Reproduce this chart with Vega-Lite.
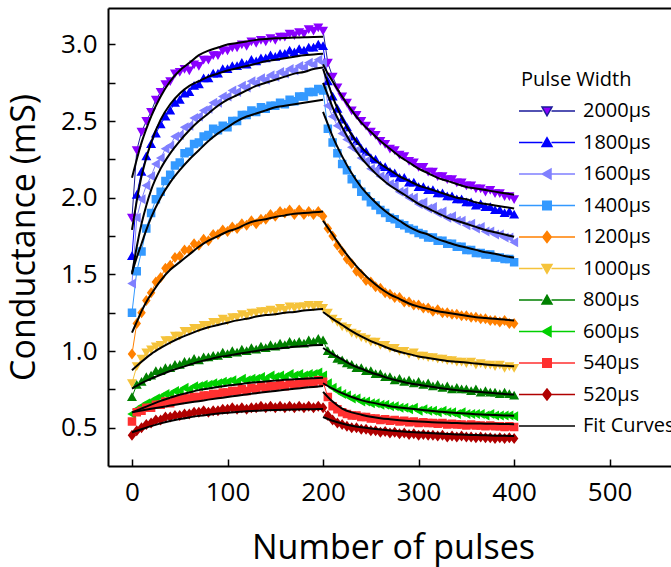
{
  "$schema": "https://vega.github.io/schema/vega-lite/v6.json",
  "width": 563,
  "height": 458,
  "autosize": {"type": "none"},
  "padding": {"left": 108, "top": 8, "right": 0, "bottom": 101},
  "background": "white",
  "config": {
    "font": "Open Sans",
    "view": {"stroke": null},
    "axis": {"grid": false, "domainColor": "black", "domainWidth": 2, "tickColor": "black", "tickWidth": 1.5, "labelColor": "black", "titleColor": "black", "labelFont": "Open Sans", "titleFont": "Open Sans", "labelFontSize": 26, "titleFontSize": 34, "titleFontWeight": "normal"}
  },
  "datasets": {
    "pts": [
{"w":"2000μs","n":0,"g":1.87},{"w":"2000μs","n":5,"g":2.31},{"w":"2000μs","n":10,"g":2.43},{"w":"2000μs","n":15,"g":2.50},{"w":"2000μs","n":20,"g":2.56},{"w":"2000μs","n":25,"g":2.64},{"w":"2000μs","n":30,"g":2.69},{"w":"2000μs","n":35,"g":2.74},{"w":"2000μs","n":40,"g":2.76},{"w":"2000μs","n":45,"g":2.81},{"w":"2000μs","n":50,"g":2.82},{"w":"2000μs","n":55,"g":2.84},{"w":"2000μs","n":60,"g":2.83},{"w":"2000μs","n":65,"g":2.87},{"w":"2000μs","n":70,"g":2.86},{"w":"2000μs","n":75,"g":2.90},{"w":"2000μs","n":80,"g":2.90},{"w":"2000μs","n":85,"g":2.93},{"w":"2000μs","n":90,"g":2.93},{"w":"2000μs","n":95,"g":2.96},{"w":"2000μs","n":100,"g":2.96},{"w":"2000μs","n":105,"g":2.98},{"w":"2000μs","n":110,"g":2.98},{"w":"2000μs","n":115,"g":3.00},{"w":"2000μs","n":120,"g":2.99},{"w":"2000μs","n":125,"g":3.02},{"w":"2000μs","n":130,"g":3.01},{"w":"2000μs","n":135,"g":3.03},{"w":"2000μs","n":140,"g":3.02},{"w":"2000μs","n":145,"g":3.04},{"w":"2000μs","n":150,"g":3.03},{"w":"2000μs","n":155,"g":3.05},{"w":"2000μs","n":160,"g":3.05},{"w":"2000μs","n":165,"g":3.07},{"w":"2000μs","n":170,"g":3.06},{"w":"2000μs","n":175,"g":3.08},{"w":"2000μs","n":180,"g":3.07},{"w":"2000μs","n":185,"g":3.10},{"w":"2000μs","n":190,"g":3.09},{"w":"2000μs","n":195,"g":3.11},{"w":"2000μs","n":200,"g":3.09},
{"w":"2000μs","n":205,"g":2.88},{"w":"2000μs","n":210,"g":2.79},{"w":"2000μs","n":215,"g":2.72},{"w":"2000μs","n":220,"g":2.66},{"w":"2000μs","n":225,"g":2.62},{"w":"2000μs","n":230,"g":2.57},{"w":"2000μs","n":235,"g":2.54},{"w":"2000μs","n":240,"g":2.50},{"w":"2000μs","n":245,"g":2.47},{"w":"2000μs","n":250,"g":2.43},{"w":"2000μs","n":255,"g":2.41},{"w":"2000μs","n":260,"g":2.37},{"w":"2000μs","n":265,"g":2.35},{"w":"2000μs","n":270,"g":2.32},{"w":"2000μs","n":275,"g":2.31},{"w":"2000μs","n":280,"g":2.28},{"w":"2000μs","n":285,"g":2.27},{"w":"2000μs","n":290,"g":2.24},{"w":"2000μs","n":295,"g":2.23},{"w":"2000μs","n":300,"g":2.20},{"w":"2000μs","n":305,"g":2.20},{"w":"2000μs","n":310,"g":2.17},{"w":"2000μs","n":315,"g":2.17},{"w":"2000μs","n":320,"g":2.14},{"w":"2000μs","n":325,"g":2.14},{"w":"2000μs","n":330,"g":2.12},{"w":"2000μs","n":335,"g":2.12},{"w":"2000μs","n":340,"g":2.10},{"w":"2000μs","n":345,"g":2.10},{"w":"2000μs","n":350,"g":2.08},{"w":"2000μs","n":355,"g":2.08},{"w":"2000μs","n":360,"g":2.06},{"w":"2000μs","n":365,"g":2.06},{"w":"2000μs","n":370,"g":2.04},{"w":"2000μs","n":375,"g":2.05},{"w":"2000μs","n":380,"g":2.03},{"w":"2000μs","n":385,"g":2.03},{"w":"2000μs","n":390,"g":2.01},{"w":"2000μs","n":395,"g":2.01},{"w":"2000μs","n":400,"g":1.99},
{"w":"1800μs","n":0,"g":1.62},{"w":"1800μs","n":5,"g":2.02},{"w":"1800μs","n":10,"g":2.17},{"w":"1800μs","n":15,"g":2.27},{"w":"1800μs","n":20,"g":2.35},{"w":"1800μs","n":25,"g":2.42},{"w":"1800μs","n":30,"g":2.48},{"w":"1800μs","n":35,"g":2.53},{"w":"1800μs","n":40,"g":2.57},{"w":"1800μs","n":45,"g":2.62},{"w":"1800μs","n":50,"g":2.64},{"w":"1800μs","n":55,"g":2.68},{"w":"1800μs","n":60,"g":2.69},{"w":"1800μs","n":65,"g":2.73},{"w":"1800μs","n":70,"g":2.74},{"w":"1800μs","n":75,"g":2.78},{"w":"1800μs","n":80,"g":2.78},{"w":"1800μs","n":85,"g":2.81},{"w":"1800μs","n":90,"g":2.81},{"w":"1800μs","n":95,"g":2.84},{"w":"1800μs","n":100,"g":2.84},{"w":"1800μs","n":105,"g":2.86},{"w":"1800μs","n":110,"g":2.86},{"w":"1800μs","n":115,"g":2.88},{"w":"1800μs","n":120,"g":2.87},{"w":"1800μs","n":125,"g":2.90},{"w":"1800μs","n":130,"g":2.89},{"w":"1800μs","n":135,"g":2.91},{"w":"1800μs","n":140,"g":2.91},{"w":"1800μs","n":145,"g":2.93},{"w":"1800μs","n":150,"g":2.92},{"w":"1800μs","n":155,"g":2.94},{"w":"1800μs","n":160,"g":2.94},{"w":"1800μs","n":165,"g":2.96},{"w":"1800μs","n":170,"g":2.95},{"w":"1800μs","n":175,"g":2.97},{"w":"1800μs","n":180,"g":2.96},{"w":"1800μs","n":185,"g":2.98},{"w":"1800μs","n":190,"g":2.98},{"w":"1800μs","n":195,"g":3.00},{"w":"1800μs","n":200,"g":2.99},
{"w":"1800μs","n":205,"g":2.76},{"w":"1800μs","n":210,"g":2.66},{"w":"1800μs","n":215,"g":2.58},{"w":"1800μs","n":220,"g":2.51},{"w":"1800μs","n":225,"g":2.46},{"w":"1800μs","n":230,"g":2.40},{"w":"1800μs","n":235,"g":2.37},{"w":"1800μs","n":240,"g":2.32},{"w":"1800μs","n":245,"g":2.30},{"w":"1800μs","n":250,"g":2.26},{"w":"1800μs","n":255,"g":2.25},{"w":"1800μs","n":260,"g":2.21},{"w":"1800μs","n":265,"g":2.20},{"w":"1800μs","n":270,"g":2.17},{"w":"1800μs","n":275,"g":2.16},{"w":"1800μs","n":280,"g":2.13},{"w":"1800μs","n":285,"g":2.13},{"w":"1800μs","n":290,"g":2.10},{"w":"1800μs","n":295,"g":2.10},{"w":"1800μs","n":300,"g":2.07},{"w":"1800μs","n":305,"g":2.07},{"w":"1800μs","n":310,"g":2.05},{"w":"1800μs","n":315,"g":2.05},{"w":"1800μs","n":320,"g":2.03},{"w":"1800μs","n":325,"g":2.03},{"w":"1800μs","n":330,"g":2.01},{"w":"1800μs","n":335,"g":2.01},{"w":"1800μs","n":340,"g":1.99},{"w":"1800μs","n":345,"g":1.99},{"w":"1800μs","n":350,"g":1.97},{"w":"1800μs","n":355,"g":1.97},{"w":"1800μs","n":360,"g":1.95},{"w":"1800μs","n":365,"g":1.96},{"w":"1800μs","n":370,"g":1.94},{"w":"1800μs","n":375,"g":1.94},{"w":"1800μs","n":380,"g":1.92},{"w":"1800μs","n":385,"g":1.92},{"w":"1800μs","n":390,"g":1.90},{"w":"1800μs","n":395,"g":1.91},{"w":"1800μs","n":400,"g":1.89},
{"w":"1600μs","n":0,"g":1.44},{"w":"1600μs","n":5,"g":1.87},{"w":"1600μs","n":10,"g":1.99},{"w":"1600μs","n":15,"g":2.08},{"w":"1600μs","n":20,"g":2.14},{"w":"1600μs","n":25,"g":2.22},{"w":"1600μs","n":30,"g":2.26},{"w":"1600μs","n":35,"g":2.32},{"w":"1600μs","n":40,"g":2.34},{"w":"1600μs","n":45,"g":2.40},{"w":"1600μs","n":50,"g":2.41},{"w":"1600μs","n":55,"g":2.46},{"w":"1600μs","n":60,"g":2.47},{"w":"1600μs","n":65,"g":2.52},{"w":"1600μs","n":70,"g":2.53},{"w":"1600μs","n":75,"g":2.57},{"w":"1600μs","n":80,"g":2.58},{"w":"1600μs","n":85,"g":2.62},{"w":"1600μs","n":90,"g":2.62},{"w":"1600μs","n":95,"g":2.66},{"w":"1600μs","n":100,"g":2.66},{"w":"1600μs","n":105,"g":2.70},{"w":"1600μs","n":110,"g":2.69},{"w":"1600μs","n":115,"g":2.73},{"w":"1600μs","n":120,"g":2.72},{"w":"1600μs","n":125,"g":2.76},{"w":"1600μs","n":130,"g":2.75},{"w":"1600μs","n":135,"g":2.78},{"w":"1600μs","n":140,"g":2.77},{"w":"1600μs","n":145,"g":2.80},{"w":"1600μs","n":150,"g":2.79},{"w":"1600μs","n":155,"g":2.82},{"w":"1600μs","n":160,"g":2.81},{"w":"1600μs","n":165,"g":2.84},{"w":"1600μs","n":170,"g":2.83},{"w":"1600μs","n":175,"g":2.86},{"w":"1600μs","n":180,"g":2.85},{"w":"1600μs","n":185,"g":2.88},{"w":"1600μs","n":190,"g":2.87},{"w":"1600μs","n":195,"g":2.90},{"w":"1600μs","n":200,"g":2.88},
{"w":"1600μs","n":205,"g":2.60},{"w":"1600μs","n":210,"g":2.53},{"w":"1600μs","n":215,"g":2.47},{"w":"1600μs","n":220,"g":2.42},{"w":"1600μs","n":225,"g":2.38},{"w":"1600μs","n":230,"g":2.33},{"w":"1600μs","n":235,"g":2.31},{"w":"1600μs","n":240,"g":2.26},{"w":"1600μs","n":245,"g":2.24},{"w":"1600μs","n":250,"g":2.19},{"w":"1600μs","n":255,"g":2.18},{"w":"1600μs","n":260,"g":2.14},{"w":"1600μs","n":265,"g":2.13},{"w":"1600μs","n":270,"g":2.09},{"w":"1600μs","n":275,"g":2.08},{"w":"1600μs","n":280,"g":2.04},{"w":"1600μs","n":285,"g":2.04},{"w":"1600μs","n":290,"g":2.00},{"w":"1600μs","n":295,"g":2.00},{"w":"1600μs","n":300,"g":1.96},{"w":"1600μs","n":305,"g":1.97},{"w":"1600μs","n":310,"g":1.93},{"w":"1600μs","n":315,"g":1.94},{"w":"1600μs","n":320,"g":1.90},{"w":"1600μs","n":325,"g":1.91},{"w":"1600μs","n":330,"g":1.87},{"w":"1600μs","n":335,"g":1.88},{"w":"1600μs","n":340,"g":1.85},{"w":"1600μs","n":345,"g":1.85},{"w":"1600μs","n":350,"g":1.82},{"w":"1600μs","n":355,"g":1.83},{"w":"1600μs","n":360,"g":1.80},{"w":"1600μs","n":365,"g":1.81},{"w":"1600μs","n":370,"g":1.78},{"w":"1600μs","n":375,"g":1.78},{"w":"1600μs","n":380,"g":1.76},{"w":"1600μs","n":385,"g":1.76},{"w":"1600μs","n":390,"g":1.74},{"w":"1600μs","n":395,"g":1.74},{"w":"1600μs","n":400,"g":1.71},
{"w":"1400μs","n":0,"g":1.25},{"w":"1400μs","n":5,"g":1.52},{"w":"1400μs","n":10,"g":1.65},{"w":"1400μs","n":15,"g":1.80},{"w":"1400μs","n":20,"g":1.90},{"w":"1400μs","n":25,"g":1.99},{"w":"1400μs","n":30,"g":2.04},{"w":"1400μs","n":35,"g":2.11},{"w":"1400μs","n":40,"g":2.15},{"w":"1400μs","n":45,"g":2.21},{"w":"1400μs","n":50,"g":2.23},{"w":"1400μs","n":55,"g":2.29},{"w":"1400μs","n":60,"g":2.30},{"w":"1400μs","n":65,"g":2.35},{"w":"1400μs","n":70,"g":2.36},{"w":"1400μs","n":75,"g":2.40},{"w":"1400μs","n":80,"g":2.41},{"w":"1400μs","n":85,"g":2.45},{"w":"1400μs","n":90,"g":2.44},{"w":"1400μs","n":95,"g":2.47},{"w":"1400μs","n":100,"g":2.46},{"w":"1400μs","n":105,"g":2.50},{"w":"1400μs","n":110,"g":2.50},{"w":"1400μs","n":115,"g":2.54},{"w":"1400μs","n":120,"g":2.54},{"w":"1400μs","n":125,"g":2.57},{"w":"1400μs","n":130,"g":2.56},{"w":"1400μs","n":135,"g":2.59},{"w":"1400μs","n":140,"g":2.58},{"w":"1400μs","n":145,"g":2.60},{"w":"1400μs","n":150,"g":2.60},{"w":"1400μs","n":155,"g":2.62},{"w":"1400μs","n":160,"g":2.61},{"w":"1400μs","n":165,"g":2.64},{"w":"1400μs","n":170,"g":2.63},{"w":"1400μs","n":175,"g":2.66},{"w":"1400μs","n":180,"g":2.66},{"w":"1400μs","n":185,"g":2.69},{"w":"1400μs","n":190,"g":2.69},{"w":"1400μs","n":195,"g":2.71},{"w":"1400μs","n":200,"g":2.70},
{"w":"1400μs","n":205,"g":2.45},{"w":"1400μs","n":210,"g":2.36},{"w":"1400μs","n":215,"g":2.29},{"w":"1400μs","n":220,"g":2.22},{"w":"1400μs","n":225,"g":2.18},{"w":"1400μs","n":230,"g":2.12},{"w":"1400μs","n":235,"g":2.09},{"w":"1400μs","n":240,"g":2.04},{"w":"1400μs","n":245,"g":2.01},{"w":"1400μs","n":250,"g":1.97},{"w":"1400μs","n":255,"g":1.95},{"w":"1400μs","n":260,"g":1.92},{"w":"1400μs","n":265,"g":1.90},{"w":"1400μs","n":270,"g":1.87},{"w":"1400μs","n":275,"g":1.86},{"w":"1400μs","n":280,"g":1.83},{"w":"1400μs","n":285,"g":1.82},{"w":"1400μs","n":290,"g":1.80},{"w":"1400μs","n":295,"g":1.79},{"w":"1400μs","n":300,"g":1.77},{"w":"1400μs","n":305,"g":1.76},{"w":"1400μs","n":310,"g":1.74},{"w":"1400μs","n":315,"g":1.74},{"w":"1400μs","n":320,"g":1.72},{"w":"1400μs","n":325,"g":1.72},{"w":"1400μs","n":330,"g":1.70},{"w":"1400μs","n":335,"g":1.70},{"w":"1400μs","n":340,"g":1.68},{"w":"1400μs","n":345,"g":1.68},{"w":"1400μs","n":350,"g":1.66},{"w":"1400μs","n":355,"g":1.66},{"w":"1400μs","n":360,"g":1.64},{"w":"1400μs","n":365,"g":1.64},{"w":"1400μs","n":370,"g":1.63},{"w":"1400μs","n":375,"g":1.63},{"w":"1400μs","n":380,"g":1.61},{"w":"1400μs","n":385,"g":1.61},{"w":"1400μs","n":390,"g":1.60},{"w":"1400μs","n":395,"g":1.60},{"w":"1400μs","n":400,"g":1.58},
{"w":"1200μs","n":0,"g":0.98},{"w":"1200μs","n":5,"g":1.18},{"w":"1200μs","n":10,"g":1.25},{"w":"1200μs","n":15,"g":1.33},{"w":"1200μs","n":20,"g":1.38},{"w":"1200μs","n":25,"g":1.45},{"w":"1200μs","n":30,"g":1.48},{"w":"1200μs","n":35,"g":1.54},{"w":"1200μs","n":40,"g":1.56},{"w":"1200μs","n":45,"g":1.61},{"w":"1200μs","n":50,"g":1.62},{"w":"1200μs","n":55,"g":1.66},{"w":"1200μs","n":60,"g":1.66},{"w":"1200μs","n":65,"g":1.70},{"w":"1200μs","n":70,"g":1.69},{"w":"1200μs","n":75,"g":1.73},{"w":"1200μs","n":80,"g":1.72},{"w":"1200μs","n":85,"g":1.76},{"w":"1200μs","n":90,"g":1.76},{"w":"1200μs","n":95,"g":1.79},{"w":"1200μs","n":100,"g":1.78},{"w":"1200μs","n":105,"g":1.81},{"w":"1200μs","n":110,"g":1.80},{"w":"1200μs","n":115,"g":1.83},{"w":"1200μs","n":120,"g":1.82},{"w":"1200μs","n":125,"g":1.85},{"w":"1200μs","n":130,"g":1.83},{"w":"1200μs","n":135,"g":1.86},{"w":"1200μs","n":140,"g":1.86},{"w":"1200μs","n":145,"g":1.89},{"w":"1200μs","n":150,"g":1.88},{"w":"1200μs","n":155,"g":1.91},{"w":"1200μs","n":160,"g":1.90},{"w":"1200μs","n":165,"g":1.92},{"w":"1200μs","n":170,"g":1.89},{"w":"1200μs","n":175,"g":1.92},{"w":"1200μs","n":180,"g":1.89},{"w":"1200μs","n":185,"g":1.91},{"w":"1200μs","n":190,"g":1.89},{"w":"1200μs","n":195,"g":1.91},{"w":"1200μs","n":200,"g":1.88},
{"w":"1200μs","n":205,"g":1.80},{"w":"1200μs","n":210,"g":1.75},{"w":"1200μs","n":215,"g":1.69},{"w":"1200μs","n":220,"g":1.65},{"w":"1200μs","n":225,"g":1.60},{"w":"1200μs","n":230,"g":1.57},{"w":"1200μs","n":235,"g":1.52},{"w":"1200μs","n":240,"g":1.50},{"w":"1200μs","n":245,"g":1.46},{"w":"1200μs","n":250,"g":1.45},{"w":"1200μs","n":255,"g":1.42},{"w":"1200μs","n":260,"g":1.41},{"w":"1200μs","n":265,"g":1.38},{"w":"1200μs","n":270,"g":1.37},{"w":"1200μs","n":275,"g":1.35},{"w":"1200μs","n":280,"g":1.35},{"w":"1200μs","n":285,"g":1.32},{"w":"1200μs","n":290,"g":1.32},{"w":"1200μs","n":295,"g":1.30},{"w":"1200μs","n":300,"g":1.30},{"w":"1200μs","n":305,"g":1.28},{"w":"1200μs","n":310,"g":1.28},{"w":"1200μs","n":315,"g":1.26},{"w":"1200μs","n":320,"g":1.27},{"w":"1200μs","n":325,"g":1.25},{"w":"1200μs","n":330,"g":1.25},{"w":"1200μs","n":335,"g":1.24},{"w":"1200μs","n":340,"g":1.24},{"w":"1200μs","n":345,"g":1.23},{"w":"1200μs","n":350,"g":1.23},{"w":"1200μs","n":355,"g":1.22},{"w":"1200μs","n":360,"g":1.22},{"w":"1200μs","n":365,"g":1.21},{"w":"1200μs","n":370,"g":1.21},{"w":"1200μs","n":375,"g":1.20},{"w":"1200μs","n":380,"g":1.20},{"w":"1200μs","n":385,"g":1.19},{"w":"1200μs","n":390,"g":1.20},{"w":"1200μs","n":395,"g":1.18},{"w":"1200μs","n":400,"g":1.18},
{"w":"1000μs","n":0,"g":0.79},{"w":"1000μs","n":5,"g":0.90},{"w":"1000μs","n":10,"g":0.95},{"w":"1000μs","n":15,"g":0.99},{"w":"1000μs","n":20,"g":1.01},{"w":"1000μs","n":25,"g":1.03},{"w":"1000μs","n":30,"g":1.04},{"w":"1000μs","n":35,"g":1.07},{"w":"1000μs","n":40,"g":1.07},{"w":"1000μs","n":45,"g":1.10},{"w":"1000μs","n":50,"g":1.10},{"w":"1000μs","n":55,"g":1.13},{"w":"1000μs","n":60,"g":1.13},{"w":"1000μs","n":65,"g":1.15},{"w":"1000μs","n":70,"g":1.15},{"w":"1000μs","n":75,"g":1.17},{"w":"1000μs","n":80,"g":1.17},{"w":"1000μs","n":85,"g":1.19},{"w":"1000μs","n":90,"g":1.19},{"w":"1000μs","n":95,"g":1.21},{"w":"1000μs","n":100,"g":1.20},{"w":"1000μs","n":105,"g":1.22},{"w":"1000μs","n":110,"g":1.22},{"w":"1000μs","n":115,"g":1.24},{"w":"1000μs","n":120,"g":1.23},{"w":"1000μs","n":125,"g":1.25},{"w":"1000μs","n":130,"g":1.25},{"w":"1000μs","n":135,"g":1.26},{"w":"1000μs","n":140,"g":1.26},{"w":"1000μs","n":145,"g":1.27},{"w":"1000μs","n":150,"g":1.26},{"w":"1000μs","n":155,"g":1.28},{"w":"1000μs","n":160,"g":1.27},{"w":"1000μs","n":165,"g":1.29},{"w":"1000μs","n":170,"g":1.28},{"w":"1000μs","n":175,"g":1.29},{"w":"1000μs","n":180,"g":1.29},{"w":"1000μs","n":185,"g":1.30},{"w":"1000μs","n":190,"g":1.29},{"w":"1000μs","n":195,"g":1.30},{"w":"1000μs","n":200,"g":1.28},
{"w":"1000μs","n":205,"g":1.25},{"w":"1000μs","n":210,"g":1.21},{"w":"1000μs","n":215,"g":1.19},{"w":"1000μs","n":220,"g":1.16},{"w":"1000μs","n":225,"g":1.15},{"w":"1000μs","n":230,"g":1.12},{"w":"1000μs","n":235,"g":1.11},{"w":"1000μs","n":240,"g":1.09},{"w":"1000μs","n":245,"g":1.08},{"w":"1000μs","n":250,"g":1.06},{"w":"1000μs","n":255,"g":1.06},{"w":"1000μs","n":260,"g":1.04},{"w":"1000μs","n":265,"g":1.04},{"w":"1000μs","n":270,"g":1.02},{"w":"1000μs","n":275,"g":1.02},{"w":"1000μs","n":280,"g":1.00},{"w":"1000μs","n":285,"g":1.00},{"w":"1000μs","n":290,"g":0.98},{"w":"1000μs","n":295,"g":0.99},{"w":"1000μs","n":300,"g":0.97},{"w":"1000μs","n":305,"g":0.97},{"w":"1000μs","n":310,"g":0.96},{"w":"1000μs","n":315,"g":0.96},{"w":"1000μs","n":320,"g":0.95},{"w":"1000μs","n":325,"g":0.95},{"w":"1000μs","n":330,"g":0.94},{"w":"1000μs","n":335,"g":0.94},{"w":"1000μs","n":340,"g":0.93},{"w":"1000μs","n":345,"g":0.93},{"w":"1000μs","n":350,"g":0.92},{"w":"1000μs","n":355,"g":0.93},{"w":"1000μs","n":360,"g":0.91},{"w":"1000μs","n":365,"g":0.92},{"w":"1000μs","n":370,"g":0.91},{"w":"1000μs","n":375,"g":0.91},{"w":"1000μs","n":380,"g":0.90},{"w":"1000μs","n":385,"g":0.91},{"w":"1000μs","n":390,"g":0.89},{"w":"1000μs","n":395,"g":0.90},{"w":"1000μs","n":400,"g":0.89},
{"w":"800μs","n":0,"g":0.70},{"w":"800μs","n":5,"g":0.78},{"w":"800μs","n":10,"g":0.80},{"w":"800μs","n":15,"g":0.83},{"w":"800μs","n":20,"g":0.84},{"w":"800μs","n":25,"g":0.87},{"w":"800μs","n":30,"g":0.87},{"w":"800μs","n":35,"g":0.89},{"w":"800μs","n":40,"g":0.89},{"w":"800μs","n":45,"g":0.91},{"w":"800μs","n":50,"g":0.91},{"w":"800μs","n":55,"g":0.93},{"w":"800μs","n":60,"g":0.93},{"w":"800μs","n":65,"g":0.95},{"w":"800μs","n":70,"g":0.94},{"w":"800μs","n":75,"g":0.96},{"w":"800μs","n":80,"g":0.96},{"w":"800μs","n":85,"g":0.97},{"w":"800μs","n":90,"g":0.97},{"w":"800μs","n":95,"g":0.99},{"w":"800μs","n":100,"g":0.98},{"w":"800μs","n":105,"g":1.00},{"w":"800μs","n":110,"g":0.99},{"w":"800μs","n":115,"g":1.01},{"w":"800μs","n":120,"g":1.00},{"w":"800μs","n":125,"g":1.02},{"w":"800μs","n":130,"g":1.01},{"w":"800μs","n":135,"g":1.03},{"w":"800μs","n":140,"g":1.02},{"w":"800μs","n":145,"g":1.04},{"w":"800μs","n":150,"g":1.03},{"w":"800μs","n":155,"g":1.05},{"w":"800μs","n":160,"g":1.04},{"w":"800μs","n":165,"g":1.06},{"w":"800μs","n":170,"g":1.05},{"w":"800μs","n":175,"g":1.06},{"w":"800μs","n":180,"g":1.05},{"w":"800μs","n":185,"g":1.07},{"w":"800μs","n":190,"g":1.06},{"w":"800μs","n":195,"g":1.08},{"w":"800μs","n":200,"g":1.07},
{"w":"800μs","n":205,"g":1.00},{"w":"800μs","n":210,"g":0.98},{"w":"800μs","n":215,"g":0.95},{"w":"800μs","n":220,"g":0.94},{"w":"800μs","n":225,"g":0.92},{"w":"800μs","n":230,"g":0.91},{"w":"800μs","n":235,"g":0.89},{"w":"800μs","n":240,"g":0.89},{"w":"800μs","n":245,"g":0.87},{"w":"800μs","n":250,"g":0.87},{"w":"800μs","n":255,"g":0.85},{"w":"800μs","n":260,"g":0.85},{"w":"800μs","n":265,"g":0.83},{"w":"800μs","n":270,"g":0.83},{"w":"800μs","n":275,"g":0.81},{"w":"800μs","n":280,"g":0.82},{"w":"800μs","n":285,"g":0.80},{"w":"800μs","n":290,"g":0.81},{"w":"800μs","n":295,"g":0.79},{"w":"800μs","n":300,"g":0.80},{"w":"800μs","n":305,"g":0.78},{"w":"800μs","n":310,"g":0.79},{"w":"800μs","n":315,"g":0.77},{"w":"800μs","n":320,"g":0.78},{"w":"800μs","n":325,"g":0.76},{"w":"800μs","n":330,"g":0.77},{"w":"800μs","n":335,"g":0.75},{"w":"800μs","n":340,"g":0.76},{"w":"800μs","n":345,"g":0.75},{"w":"800μs","n":350,"g":0.75},{"w":"800μs","n":355,"g":0.74},{"w":"800μs","n":360,"g":0.75},{"w":"800μs","n":365,"g":0.73},{"w":"800μs","n":370,"g":0.74},{"w":"800μs","n":375,"g":0.73},{"w":"800μs","n":380,"g":0.73},{"w":"800μs","n":385,"g":0.72},{"w":"800μs","n":390,"g":0.73},{"w":"800μs","n":395,"g":0.72},{"w":"800μs","n":400,"g":0.71},
{"w":"600μs","n":0,"g":0.59},{"w":"600μs","n":5,"g":0.62},{"w":"600μs","n":10,"g":0.64},{"w":"600μs","n":15,"g":0.66},{"w":"600μs","n":20,"g":0.67},{"w":"600μs","n":25,"g":0.69},{"w":"600μs","n":30,"g":0.70},{"w":"600μs","n":35,"g":0.72},{"w":"600μs","n":40,"g":0.72},{"w":"600μs","n":45,"g":0.74},{"w":"600μs","n":50,"g":0.74},{"w":"600μs","n":55,"g":0.76},{"w":"600μs","n":60,"g":0.75},{"w":"600μs","n":65,"g":0.77},{"w":"600μs","n":70,"g":0.77},{"w":"600μs","n":75,"g":0.78},{"w":"600μs","n":80,"g":0.78},{"w":"600μs","n":85,"g":0.79},{"w":"600μs","n":90,"g":0.79},{"w":"600μs","n":95,"g":0.80},{"w":"600μs","n":100,"g":0.80},{"w":"600μs","n":105,"g":0.81},{"w":"600μs","n":110,"g":0.80},{"w":"600μs","n":115,"g":0.82},{"w":"600μs","n":120,"g":0.81},{"w":"600μs","n":125,"g":0.82},{"w":"600μs","n":130,"g":0.82},{"w":"600μs","n":135,"g":0.83},{"w":"600μs","n":140,"g":0.82},{"w":"600μs","n":145,"g":0.84},{"w":"600μs","n":150,"g":0.83},{"w":"600μs","n":155,"g":0.84},{"w":"600μs","n":160,"g":0.83},{"w":"600μs","n":165,"g":0.85},{"w":"600μs","n":170,"g":0.84},{"w":"600μs","n":175,"g":0.85},{"w":"600μs","n":180,"g":0.84},{"w":"600μs","n":185,"g":0.85},{"w":"600μs","n":190,"g":0.85},{"w":"600μs","n":195,"g":0.86},{"w":"600μs","n":200,"g":0.84},
{"w":"600μs","n":205,"g":0.79},{"w":"600μs","n":210,"g":0.76},{"w":"600μs","n":215,"g":0.74},{"w":"600μs","n":220,"g":0.72},{"w":"600μs","n":225,"g":0.71},{"w":"600μs","n":230,"g":0.69},{"w":"600μs","n":235,"g":0.69},{"w":"600μs","n":240,"g":0.67},{"w":"600μs","n":245,"g":0.67},{"w":"600μs","n":250,"g":0.66},{"w":"600μs","n":255,"g":0.66},{"w":"600μs","n":260,"g":0.65},{"w":"600μs","n":265,"g":0.65},{"w":"600μs","n":270,"g":0.64},{"w":"600μs","n":275,"g":0.64},{"w":"600μs","n":280,"g":0.63},{"w":"600μs","n":285,"g":0.63},{"w":"600μs","n":290,"g":0.62},{"w":"600μs","n":295,"g":0.63},{"w":"600μs","n":300,"g":0.61},{"w":"600μs","n":305,"g":0.62},{"w":"600μs","n":310,"g":0.61},{"w":"600μs","n":315,"g":0.61},{"w":"600μs","n":320,"g":0.60},{"w":"600μs","n":325,"g":0.61},{"w":"600μs","n":330,"g":0.60},{"w":"600μs","n":335,"g":0.60},{"w":"600μs","n":340,"g":0.59},{"w":"600μs","n":345,"g":0.60},{"w":"600μs","n":350,"g":0.59},{"w":"600μs","n":355,"g":0.59},{"w":"600μs","n":360,"g":0.59},{"w":"600μs","n":365,"g":0.59},{"w":"600μs","n":370,"g":0.58},{"w":"600μs","n":375,"g":0.59},{"w":"600μs","n":380,"g":0.58},{"w":"600μs","n":385,"g":0.58},{"w":"600μs","n":390,"g":0.58},{"w":"600μs","n":395,"g":0.58},{"w":"600μs","n":400,"g":0.575},
{"w":"540μs","n":0,"g":0.54},{"w":"540μs","n":5,"g":0.60},{"w":"540μs","n":10,"g":0.61},{"w":"540μs","n":15,"g":0.63},{"w":"540μs","n":20,"g":0.63},{"w":"540μs","n":25,"g":0.65},{"w":"540μs","n":30,"g":0.65},{"w":"540μs","n":35,"g":0.67},{"w":"540μs","n":40,"g":0.66},{"w":"540μs","n":45,"g":0.68},{"w":"540μs","n":50,"g":0.68},{"w":"540μs","n":55,"g":0.69},{"w":"540μs","n":60,"g":0.69},{"w":"540μs","n":65,"g":0.70},{"w":"540μs","n":70,"g":0.70},{"w":"540μs","n":75,"g":0.71},{"w":"540μs","n":80,"g":0.71},{"w":"540μs","n":85,"g":0.72},{"w":"540μs","n":90,"g":0.72},{"w":"540μs","n":95,"g":0.73},{"w":"540μs","n":100,"g":0.73},{"w":"540μs","n":105,"g":0.74},{"w":"540μs","n":110,"g":0.74},{"w":"540μs","n":115,"g":0.75},{"w":"540μs","n":120,"g":0.74},{"w":"540μs","n":125,"g":0.76},{"w":"540μs","n":130,"g":0.75},{"w":"540μs","n":135,"g":0.77},{"w":"540μs","n":140,"g":0.76},{"w":"540μs","n":145,"g":0.77},{"w":"540μs","n":150,"g":0.77},{"w":"540μs","n":155,"g":0.78},{"w":"540μs","n":160,"g":0.77},{"w":"540μs","n":165,"g":0.79},{"w":"540μs","n":170,"g":0.78},{"w":"540μs","n":175,"g":0.79},{"w":"540μs","n":180,"g":0.79},{"w":"540μs","n":185,"g":0.80},{"w":"540μs","n":190,"g":0.79},{"w":"540μs","n":195,"g":0.81},{"w":"540μs","n":200,"g":0.80},
{"w":"540μs","n":205,"g":0.70},{"w":"540μs","n":210,"g":0.64},{"w":"540μs","n":215,"g":0.62},{"w":"540μs","n":220,"g":0.60},{"w":"540μs","n":225,"g":0.59},{"w":"540μs","n":230,"g":0.58},{"w":"540μs","n":235,"g":0.58},{"w":"540μs","n":240,"g":0.57},{"w":"540μs","n":245,"g":0.57},{"w":"540μs","n":250,"g":0.56},{"w":"540μs","n":255,"g":0.56},{"w":"540μs","n":260,"g":0.55},{"w":"540μs","n":265,"g":0.555},{"w":"540μs","n":270,"g":0.545},{"w":"540μs","n":275,"g":0.55},{"w":"540μs","n":280,"g":0.54},{"w":"540μs","n":285,"g":0.545},{"w":"540μs","n":290,"g":0.535},{"w":"540μs","n":295,"g":0.54},{"w":"540μs","n":300,"g":0.53},{"w":"540μs","n":305,"g":0.535},{"w":"540μs","n":310,"g":0.53},{"w":"540μs","n":315,"g":0.53},{"w":"540μs","n":320,"g":0.525},{"w":"540μs","n":325,"g":0.53},{"w":"540μs","n":330,"g":0.52},{"w":"540μs","n":335,"g":0.525},{"w":"540μs","n":340,"g":0.52},{"w":"540μs","n":345,"g":0.52},{"w":"540μs","n":350,"g":0.515},{"w":"540μs","n":355,"g":0.52},{"w":"540μs","n":360,"g":0.515},{"w":"540μs","n":365,"g":0.515},{"w":"540μs","n":370,"g":0.51},{"w":"540μs","n":375,"g":0.515},{"w":"540μs","n":380,"g":0.51},{"w":"540μs","n":385,"g":0.51},{"w":"540μs","n":390,"g":0.505},{"w":"540μs","n":395,"g":0.51},{"w":"540μs","n":400,"g":0.505},
{"w":"520μs","n":0,"g":0.45},{"w":"520μs","n":5,"g":0.48},{"w":"520μs","n":10,"g":0.50},{"w":"520μs","n":15,"g":0.52},{"w":"520μs","n":20,"g":0.53},{"w":"520μs","n":25,"g":0.55},{"w":"520μs","n":30,"g":0.55},{"w":"520μs","n":35,"g":0.57},{"w":"520μs","n":40,"g":0.57},{"w":"520μs","n":45,"g":0.58},{"w":"520μs","n":50,"g":0.58},{"w":"520μs","n":55,"g":0.59},{"w":"520μs","n":60,"g":0.59},{"w":"520μs","n":65,"g":0.60},{"w":"520μs","n":70,"g":0.60},{"w":"520μs","n":75,"g":0.61},{"w":"520μs","n":80,"g":0.60},{"w":"520μs","n":85,"g":0.61},{"w":"520μs","n":90,"g":0.61},{"w":"520μs","n":95,"g":0.62},{"w":"520μs","n":100,"g":0.62},{"w":"520μs","n":105,"g":0.63},{"w":"520μs","n":110,"g":0.62},{"w":"520μs","n":115,"g":0.63},{"w":"520μs","n":120,"g":0.62},{"w":"520μs","n":125,"g":0.63},{"w":"520μs","n":130,"g":0.63},{"w":"520μs","n":135,"g":0.64},{"w":"520μs","n":140,"g":0.63},{"w":"520μs","n":145,"g":0.64},{"w":"520μs","n":150,"g":0.63},{"w":"520μs","n":155,"g":0.64},{"w":"520μs","n":160,"g":0.63},{"w":"520μs","n":165,"g":0.64},{"w":"520μs","n":170,"g":0.63},{"w":"520μs","n":175,"g":0.64},{"w":"520μs","n":180,"g":0.63},{"w":"520μs","n":185,"g":0.64},{"w":"520μs","n":190,"g":0.63},{"w":"520μs","n":195,"g":0.64},{"w":"520μs","n":200,"g":0.63},
{"w":"520μs","n":205,"g":0.58},{"w":"520μs","n":210,"g":0.55},{"w":"520μs","n":215,"g":0.53},{"w":"520μs","n":220,"g":0.52},{"w":"520μs","n":225,"g":0.51},{"w":"520μs","n":230,"g":0.50},{"w":"520μs","n":235,"g":0.50},{"w":"520μs","n":240,"g":0.49},{"w":"520μs","n":245,"g":0.49},{"w":"520μs","n":250,"g":0.48},{"w":"520μs","n":255,"g":0.48},{"w":"520μs","n":260,"g":0.47},{"w":"520μs","n":265,"g":0.475},{"w":"520μs","n":270,"g":0.465},{"w":"520μs","n":275,"g":0.47},{"w":"520μs","n":280,"g":0.46},{"w":"520μs","n":285,"g":0.465},{"w":"520μs","n":290,"g":0.455},{"w":"520μs","n":295,"g":0.46},{"w":"520μs","n":300,"g":0.45},{"w":"520μs","n":305,"g":0.455},{"w":"520μs","n":310,"g":0.45},{"w":"520μs","n":315,"g":0.45},{"w":"520μs","n":320,"g":0.445},{"w":"520μs","n":325,"g":0.45},{"w":"520μs","n":330,"g":0.44},{"w":"520μs","n":335,"g":0.445},{"w":"520μs","n":340,"g":0.44},{"w":"520μs","n":345,"g":0.445},{"w":"520μs","n":350,"g":0.44},{"w":"520μs","n":355,"g":0.44},{"w":"520μs","n":360,"g":0.435},{"w":"520μs","n":365,"g":0.44},{"w":"520μs","n":370,"g":0.435},{"w":"520μs","n":375,"g":0.435},{"w":"520μs","n":380,"g":0.43},{"w":"520μs","n":385,"g":0.435},{"w":"520μs","n":390,"g":0.43},{"w":"520μs","n":395,"g":0.435},{"w":"520μs","n":400,"g":0.43}
    ],
    "fit": [
{"c":"2000r","n":0,"g":2.13},{"c":"2000r","n":5,"g":2.25},{"c":"2000r","n":10,"g":2.36},{"c":"2000r","n":15,"g":2.45},{"c":"2000r","n":20,"g":2.53},{"c":"2000r","n":30,"g":2.66},{"c":"2000r","n":40,"g":2.76},{"c":"2000r","n":50,"g":2.83},{"c":"2000r","n":60,"g":2.88},{"c":"2000r","n":70,"g":2.93},{"c":"2000r","n":80,"g":2.96},{"c":"2000r","n":90,"g":2.98},{"c":"2000r","n":100,"g":3.00},{"c":"2000r","n":110,"g":3.01},{"c":"2000r","n":120,"g":3.02},{"c":"2000r","n":130,"g":3.03},{"c":"2000r","n":140,"g":3.035},{"c":"2000r","n":150,"g":3.04},{"c":"2000r","n":160,"g":3.043},{"c":"2000r","n":170,"g":3.045},{"c":"2000r","n":180,"g":3.047},{"c":"2000r","n":190,"g":3.048},{"c":"2000r","n":200,"g":3.05},
{"c":"2000d","n":200,"g":2.87},{"c":"2000d","n":205,"g":2.81},{"c":"2000d","n":210,"g":2.76},{"c":"2000d","n":220,"g":2.66},{"c":"2000d","n":230,"g":2.57},{"c":"2000d","n":240,"g":2.49},{"c":"2000d","n":250,"g":2.43},{"c":"2000d","n":260,"g":2.37},{"c":"2000d","n":270,"g":2.32},{"c":"2000d","n":280,"g":2.27},{"c":"2000d","n":290,"g":2.23},{"c":"2000d","n":300,"g":2.19},{"c":"2000d","n":310,"g":2.16},{"c":"2000d","n":320,"g":2.13},{"c":"2000d","n":330,"g":2.11},{"c":"2000d","n":340,"g":2.09},{"c":"2000d","n":350,"g":2.07},{"c":"2000d","n":360,"g":2.06},{"c":"2000d","n":370,"g":2.05},{"c":"2000d","n":380,"g":2.04},{"c":"2000d","n":390,"g":2.03},{"c":"2000d","n":400,"g":2.02},
{"c":"1800r","n":0,"g":1.79},{"c":"1800r","n":5,"g":1.98},{"c":"1800r","n":10,"g":2.14},{"c":"1800r","n":15,"g":2.26},{"c":"1800r","n":20,"g":2.36},{"c":"1800r","n":30,"g":2.51},{"c":"1800r","n":40,"g":2.61},{"c":"1800r","n":50,"g":2.68},{"c":"1800r","n":60,"g":2.73},{"c":"1800r","n":70,"g":2.76},{"c":"1800r","n":80,"g":2.79},{"c":"1800r","n":90,"g":2.81},{"c":"1800r","n":100,"g":2.83},{"c":"1800r","n":110,"g":2.845},{"c":"1800r","n":120,"g":2.86},{"c":"1800r","n":130,"g":2.875},{"c":"1800r","n":140,"g":2.89},{"c":"1800r","n":150,"g":2.90},{"c":"1800r","n":160,"g":2.91},{"c":"1800r","n":170,"g":2.92},{"c":"1800r","n":180,"g":2.93},{"c":"1800r","n":190,"g":2.935},{"c":"1800r","n":200,"g":2.94},
{"c":"1800d","n":200,"g":2.84},{"c":"1800d","n":205,"g":2.75},{"c":"1800d","n":210,"g":2.66},{"c":"1800d","n":220,"g":2.52},{"c":"1800d","n":230,"g":2.41},{"c":"1800d","n":240,"g":2.33},{"c":"1800d","n":250,"g":2.27},{"c":"1800d","n":260,"g":2.22},{"c":"1800d","n":270,"g":2.18},{"c":"1800d","n":280,"g":2.14},{"c":"1800d","n":290,"g":2.11},{"c":"1800d","n":300,"g":2.08},{"c":"1800d","n":310,"g":2.06},{"c":"1800d","n":320,"g":2.04},{"c":"1800d","n":330,"g":2.02},{"c":"1800d","n":340,"g":2.00},{"c":"1800d","n":350,"g":1.99},{"c":"1800d","n":360,"g":1.97},{"c":"1800d","n":370,"g":1.96},{"c":"1800d","n":380,"g":1.95},{"c":"1800d","n":390,"g":1.94},{"c":"1800d","n":400,"g":1.93},
{"c":"1600r","n":0,"g":1.50},{"c":"1600r","n":5,"g":1.68},{"c":"1600r","n":10,"g":1.83},{"c":"1600r","n":15,"g":1.95},{"c":"1600r","n":20,"g":2.05},{"c":"1600r","n":30,"g":2.19},{"c":"1600r","n":40,"g":2.29},{"c":"1600r","n":50,"g":2.37},{"c":"1600r","n":60,"g":2.44},{"c":"1600r","n":70,"g":2.50},{"c":"1600r","n":80,"g":2.55},{"c":"1600r","n":90,"g":2.60},{"c":"1600r","n":100,"g":2.64},{"c":"1600r","n":110,"g":2.67},{"c":"1600r","n":120,"g":2.70},{"c":"1600r","n":130,"g":2.73},{"c":"1600r","n":140,"g":2.75},{"c":"1600r","n":150,"g":2.77},{"c":"1600r","n":160,"g":2.79},{"c":"1600r","n":170,"g":2.81},{"c":"1600r","n":180,"g":2.82},{"c":"1600r","n":190,"g":2.84},{"c":"1600r","n":200,"g":2.85},
{"c":"1600d","n":200,"g":2.75},{"c":"1600d","n":205,"g":2.67},{"c":"1600d","n":210,"g":2.59},{"c":"1600d","n":220,"g":2.46},{"c":"1600d","n":230,"g":2.35},{"c":"1600d","n":240,"g":2.26},{"c":"1600d","n":250,"g":2.19},{"c":"1600d","n":260,"g":2.13},{"c":"1600d","n":270,"g":2.08},{"c":"1600d","n":280,"g":2.04},{"c":"1600d","n":290,"g":2.00},{"c":"1600d","n":300,"g":1.96},{"c":"1600d","n":310,"g":1.93},{"c":"1600d","n":320,"g":1.90},{"c":"1600d","n":330,"g":1.87},{"c":"1600d","n":340,"g":1.85},{"c":"1600d","n":350,"g":1.83},{"c":"1600d","n":360,"g":1.81},{"c":"1600d","n":370,"g":1.79},{"c":"1600d","n":380,"g":1.775},{"c":"1600d","n":390,"g":1.76},{"c":"1600d","n":400,"g":1.745},
{"c":"1400r","n":0,"g":1.51},{"c":"1400r","n":5,"g":1.61},{"c":"1400r","n":10,"g":1.70},{"c":"1400r","n":15,"g":1.79},{"c":"1400r","n":20,"g":1.87},{"c":"1400r","n":30,"g":2.00},{"c":"1400r","n":40,"g":2.10},{"c":"1400r","n":50,"g":2.18},{"c":"1400r","n":60,"g":2.25},{"c":"1400r","n":70,"g":2.31},{"c":"1400r","n":80,"g":2.37},{"c":"1400r","n":90,"g":2.42},{"c":"1400r","n":100,"g":2.46},{"c":"1400r","n":110,"g":2.50},{"c":"1400r","n":120,"g":2.53},{"c":"1400r","n":130,"g":2.55},{"c":"1400r","n":140,"g":2.57},{"c":"1400r","n":150,"g":2.59},{"c":"1400r","n":160,"g":2.60},{"c":"1400r","n":170,"g":2.61},{"c":"1400r","n":180,"g":2.62},{"c":"1400r","n":190,"g":2.63},{"c":"1400r","n":200,"g":2.64},
{"c":"1400d","n":200,"g":2.56},{"c":"1400d","n":205,"g":2.48},{"c":"1400d","n":210,"g":2.40},{"c":"1400d","n":220,"g":2.27},{"c":"1400d","n":230,"g":2.16},{"c":"1400d","n":240,"g":2.07},{"c":"1400d","n":250,"g":2.00},{"c":"1400d","n":260,"g":1.94},{"c":"1400d","n":270,"g":1.89},{"c":"1400d","n":280,"g":1.85},{"c":"1400d","n":290,"g":1.81},{"c":"1400d","n":300,"g":1.78},{"c":"1400d","n":310,"g":1.76},{"c":"1400d","n":320,"g":1.73},{"c":"1400d","n":330,"g":1.71},{"c":"1400d","n":340,"g":1.69},{"c":"1400d","n":350,"g":1.675},{"c":"1400d","n":360,"g":1.66},{"c":"1400d","n":370,"g":1.645},{"c":"1400d","n":380,"g":1.635},{"c":"1400d","n":390,"g":1.62},{"c":"1400d","n":400,"g":1.61},
{"c":"1200r","n":0,"g":1.12},{"c":"1200r","n":5,"g":1.19},{"c":"1200r","n":10,"g":1.26},{"c":"1200r","n":15,"g":1.32},{"c":"1200r","n":20,"g":1.37},{"c":"1200r","n":30,"g":1.46},{"c":"1200r","n":40,"g":1.53},{"c":"1200r","n":50,"g":1.58},{"c":"1200r","n":60,"g":1.63},{"c":"1200r","n":70,"g":1.68},{"c":"1200r","n":80,"g":1.72},{"c":"1200r","n":90,"g":1.75},{"c":"1200r","n":100,"g":1.78},{"c":"1200r","n":110,"g":1.80},{"c":"1200r","n":120,"g":1.83},{"c":"1200r","n":130,"g":1.85},{"c":"1200r","n":140,"g":1.86},{"c":"1200r","n":150,"g":1.875},{"c":"1200r","n":160,"g":1.885},{"c":"1200r","n":170,"g":1.895},{"c":"1200r","n":180,"g":1.90},{"c":"1200r","n":190,"g":1.905},{"c":"1200r","n":200,"g":1.91},
{"c":"1200d","n":200,"g":1.85},{"c":"1200d","n":210,"g":1.76},{"c":"1200d","n":220,"g":1.67},{"c":"1200d","n":230,"g":1.59},{"c":"1200d","n":240,"g":1.52},{"c":"1200d","n":250,"g":1.46},{"c":"1200d","n":260,"g":1.41},{"c":"1200d","n":270,"g":1.37},{"c":"1200d","n":280,"g":1.34},{"c":"1200d","n":290,"g":1.31},{"c":"1200d","n":300,"g":1.29},{"c":"1200d","n":310,"g":1.275},{"c":"1200d","n":320,"g":1.26},{"c":"1200d","n":330,"g":1.25},{"c":"1200d","n":340,"g":1.24},{"c":"1200d","n":350,"g":1.23},{"c":"1200d","n":360,"g":1.22},{"c":"1200d","n":370,"g":1.215},{"c":"1200d","n":380,"g":1.21},{"c":"1200d","n":390,"g":1.205},{"c":"1200d","n":400,"g":1.20},
{"c":"1000r","n":0,"g":0.875},{"c":"1000r","n":10,"g":0.93},{"c":"1000r","n":20,"g":0.98},{"c":"1000r","n":30,"g":1.02},{"c":"1000r","n":40,"g":1.055},{"c":"1000r","n":50,"g":1.085},{"c":"1000r","n":60,"g":1.11},{"c":"1000r","n":70,"g":1.135},{"c":"1000r","n":80,"g":1.155},{"c":"1000r","n":90,"g":1.17},{"c":"1000r","n":100,"g":1.185},{"c":"1000r","n":110,"g":1.20},{"c":"1000r","n":120,"g":1.21},{"c":"1000r","n":130,"g":1.225},{"c":"1000r","n":140,"g":1.235},{"c":"1000r","n":150,"g":1.24},{"c":"1000r","n":160,"g":1.25},{"c":"1000r","n":170,"g":1.255},{"c":"1000r","n":180,"g":1.265},{"c":"1000r","n":190,"g":1.27},{"c":"1000r","n":200,"g":1.275},
{"c":"1000d","n":200,"g":1.255},{"c":"1000d","n":210,"g":1.21},{"c":"1000d","n":220,"g":1.17},{"c":"1000d","n":230,"g":1.13},{"c":"1000d","n":240,"g":1.095},{"c":"1000d","n":250,"g":1.065},{"c":"1000d","n":260,"g":1.04},{"c":"1000d","n":270,"g":1.015},{"c":"1000d","n":280,"g":0.995},{"c":"1000d","n":290,"g":0.98},{"c":"1000d","n":300,"g":0.965},{"c":"1000d","n":310,"g":0.955},{"c":"1000d","n":320,"g":0.945},{"c":"1000d","n":330,"g":0.935},{"c":"1000d","n":340,"g":0.93},{"c":"1000d","n":350,"g":0.925},{"c":"1000d","n":360,"g":0.918},{"c":"1000d","n":370,"g":0.912},{"c":"1000d","n":380,"g":0.908},{"c":"1000d","n":390,"g":0.904},{"c":"1000d","n":400,"g":0.90},
{"c":"800r","n":0,"g":0.755},{"c":"800r","n":10,"g":0.79},{"c":"800r","n":20,"g":0.82},{"c":"800r","n":30,"g":0.845},{"c":"800r","n":40,"g":0.87},{"c":"800r","n":50,"g":0.89},{"c":"800r","n":60,"g":0.91},{"c":"800r","n":70,"g":0.93},{"c":"800r","n":80,"g":0.945},{"c":"800r","n":90,"g":0.96},{"c":"800r","n":100,"g":0.97},{"c":"800r","n":110,"g":0.98},{"c":"800r","n":120,"g":0.99},{"c":"800r","n":130,"g":1.0},{"c":"800r","n":140,"g":1.01},{"c":"800r","n":150,"g":1.015},{"c":"800r","n":160,"g":1.022},{"c":"800r","n":170,"g":1.028},{"c":"800r","n":180,"g":1.033},{"c":"800r","n":190,"g":1.037},{"c":"800r","n":200,"g":1.04},
{"c":"800d","n":200,"g":1.02},{"c":"800d","n":210,"g":0.98},{"c":"800d","n":220,"g":0.945},{"c":"800d","n":230,"g":0.91},{"c":"800d","n":240,"g":0.885},{"c":"800d","n":250,"g":0.86},{"c":"800d","n":260,"g":0.84},{"c":"800d","n":270,"g":0.82},{"c":"800d","n":280,"g":0.805},{"c":"800d","n":290,"g":0.79},{"c":"800d","n":300,"g":0.78},{"c":"800d","n":310,"g":0.77},{"c":"800d","n":320,"g":0.76},{"c":"800d","n":330,"g":0.752},{"c":"800d","n":340,"g":0.745},{"c":"800d","n":350,"g":0.74},{"c":"800d","n":360,"g":0.735},{"c":"800d","n":370,"g":0.73},{"c":"800d","n":380,"g":0.725},{"c":"800d","n":390,"g":0.72},{"c":"800d","n":400,"g":0.717},
{"c":"600r","n":0,"g":0.60},{"c":"600r","n":10,"g":0.625},{"c":"600r","n":20,"g":0.65},{"c":"600r","n":30,"g":0.675},{"c":"600r","n":40,"g":0.695},{"c":"600r","n":50,"g":0.715},{"c":"600r","n":60,"g":0.73},{"c":"600r","n":70,"g":0.745},{"c":"600r","n":80,"g":0.755},{"c":"600r","n":90,"g":0.765},{"c":"600r","n":100,"g":0.775},{"c":"600r","n":110,"g":0.782},{"c":"600r","n":120,"g":0.79},{"c":"600r","n":130,"g":0.796},{"c":"600r","n":140,"g":0.802},{"c":"600r","n":150,"g":0.807},{"c":"600r","n":160,"g":0.812},{"c":"600r","n":170,"g":0.816},{"c":"600r","n":180,"g":0.82},{"c":"600r","n":190,"g":0.823},{"c":"600r","n":200,"g":0.826},
{"c":"600d","n":200,"g":0.79},{"c":"600d","n":210,"g":0.755},{"c":"600d","n":220,"g":0.725},{"c":"600d","n":230,"g":0.70},{"c":"600d","n":240,"g":0.68},{"c":"600d","n":250,"g":0.665},{"c":"600d","n":260,"g":0.652},{"c":"600d","n":270,"g":0.64},{"c":"600d","n":280,"g":0.632},{"c":"600d","n":290,"g":0.625},{"c":"600d","n":300,"g":0.618},{"c":"600d","n":310,"g":0.612},{"c":"600d","n":320,"g":0.606},{"c":"600d","n":330,"g":0.60},{"c":"600d","n":340,"g":0.596},{"c":"600d","n":350,"g":0.592},{"c":"600d","n":360,"g":0.588},{"c":"600d","n":370,"g":0.585},{"c":"600d","n":380,"g":0.582},{"c":"600d","n":390,"g":0.58},{"c":"600d","n":400,"g":0.578},
{"c":"540r","n":0,"g":0.60},{"c":"540r","n":10,"g":0.612},{"c":"540r","n":20,"g":0.623},{"c":"540r","n":30,"g":0.633},{"c":"540r","n":40,"g":0.644},{"c":"540r","n":50,"g":0.654},{"c":"540r","n":60,"g":0.664},{"c":"540r","n":70,"g":0.673},{"c":"540r","n":80,"g":0.683},{"c":"540r","n":90,"g":0.692},{"c":"540r","n":100,"g":0.70},{"c":"540r","n":110,"g":0.709},{"c":"540r","n":120,"g":0.717},{"c":"540r","n":130,"g":0.725},{"c":"540r","n":140,"g":0.733},{"c":"540r","n":150,"g":0.74},{"c":"540r","n":160,"g":0.747},{"c":"540r","n":170,"g":0.754},{"c":"540r","n":180,"g":0.76},{"c":"540r","n":190,"g":0.766},{"c":"540r","n":200,"g":0.772},
{"c":"540d","n":200,"g":0.734},{"c":"540d","n":210,"g":0.67},{"c":"540d","n":220,"g":0.625},{"c":"540d","n":230,"g":0.60},{"c":"540d","n":240,"g":0.585},{"c":"540d","n":250,"g":0.572},{"c":"540d","n":260,"g":0.562},{"c":"540d","n":270,"g":0.555},{"c":"540d","n":280,"g":0.549},{"c":"540d","n":290,"g":0.544},{"c":"540d","n":300,"g":0.54},{"c":"540d","n":310,"g":0.537},{"c":"540d","n":320,"g":0.534},{"c":"540d","n":330,"g":0.532},{"c":"540d","n":340,"g":0.53},{"c":"540d","n":350,"g":0.528},{"c":"540d","n":360,"g":0.527},{"c":"540d","n":370,"g":0.526},{"c":"540d","n":380,"g":0.525},{"c":"540d","n":390,"g":0.524},{"c":"540d","n":400,"g":0.523},
{"c":"520r","n":0,"g":0.47},{"c":"520r","n":10,"g":0.49},{"c":"520r","n":20,"g":0.51},{"c":"520r","n":30,"g":0.528},{"c":"520r","n":40,"g":0.543},{"c":"520r","n":50,"g":0.556},{"c":"520r","n":60,"g":0.567},{"c":"520r","n":70,"g":0.577},{"c":"520r","n":80,"g":0.585},{"c":"520r","n":90,"g":0.592},{"c":"520r","n":100,"g":0.598},{"c":"520r","n":110,"g":0.603},{"c":"520r","n":120,"g":0.607},{"c":"520r","n":130,"g":0.61},{"c":"520r","n":140,"g":0.613},{"c":"520r","n":150,"g":0.615},{"c":"520r","n":160,"g":0.617},{"c":"520r","n":170,"g":0.619},{"c":"520r","n":180,"g":0.62},{"c":"520r","n":190,"g":0.621},{"c":"520r","n":200,"g":0.622},
{"c":"520d","n":200,"g":0.57},{"c":"520d","n":210,"g":0.545},{"c":"520d","n":220,"g":0.527},{"c":"520d","n":230,"g":0.513},{"c":"520d","n":240,"g":0.503},{"c":"520d","n":250,"g":0.495},{"c":"520d","n":260,"g":0.488},{"c":"520d","n":270,"g":0.482},{"c":"520d","n":280,"g":0.477},{"c":"520d","n":290,"g":0.472},{"c":"520d","n":300,"g":0.468},{"c":"520d","n":310,"g":0.465},{"c":"520d","n":320,"g":0.462},{"c":"520d","n":330,"g":0.459},{"c":"520d","n":340,"g":0.456},{"c":"520d","n":350,"g":0.454},{"c":"520d","n":360,"g":0.452},{"c":"520d","n":370,"g":0.45},{"c":"520d","n":380,"g":0.448},{"c":"520d","n":390,"g":0.447},{"c":"520d","n":400,"g":0.445}
    ]
  },
  "layer": [
    {
      "data": {"name": "pts"},
      "mark": {"type": "line", "strokeWidth": 1, "clip": true},
      "encoding": {
        "x": {"field": "n", "type": "quantitative", "scale": {"domain": [-25.1, 564.2], "nice": false, "zero": false},
              "axis": {"orient": "bottom", "values": [0, 100, 200, 300, 400, 500], "tickSize": -7, "labelPadding": 20, "title": "Number of pulses", "titleX": 285, "titleY": 92, "titleBaseline": "alphabetic", "titleAnchor": null, "labelFlush": false, "labelOverlap": false}},
        "y": {"field": "g", "type": "quantitative", "scale": {"domain": [0.25, 3.238], "nice": false, "zero": false},
              "axis": {"values": [0.5, 0.75, 1.0, 1.25, 1.5, 1.75, 2.0, 2.25, 2.5, 2.75, 3.0], "labelExpr": "datum.value % 0.5 == 0 ? format(datum.value, '.1f') : ''", "tickSize": -7, "labelPadding": 18, "title": "Conductance (mS)", "titleX": -74, "titleY": 229, "titleAngle": 270, "titleBaseline": "alphabetic", "labelFlush": false, "labelOverlap": false}},
        "stroke": {"field": "w", "type": "nominal",
                   "scale": {"domain": ["2000μs","1800μs","1600μs","1400μs","1200μs","1000μs","800μs","600μs","540μs","520μs","Fit Curves"],
                             "range": ["#1a1a9a","#0000ff","#8080ff","#3399ff","#ff8000","#f5c33b","#008000","#00d000","#ff3030","#b00000","#000000"]}}
      }
    },
    {
      "data": {"name": "pts"},
      "mark": {"type": "point", "filled": true, "size": 100, "opacity": 1, "strokeWidth": 0, "clip": true},
      "encoding": {
        "x": {"field": "n", "type": "quantitative", "axis": null},
        "y": {"field": "g", "type": "quantitative"},
        "color": {"field": "w", "type": "nominal",
                  "scale": {"domain": ["2000μs","1800μs","1600μs","1400μs","1200μs","1000μs","800μs","600μs","540μs","520μs","Fit Curves"],
                            "range": ["#8a00ff","#0000ff","#8080ff","#3399ff","#ff8000","#f5c33b","#008000","#00d000","#ff3030","#b00000","#000000"]}},
        "shape": {"field": "w", "type": "nominal",
                  "scale": {"domain": ["2000μs","1800μs","1600μs","1400μs","1200μs","1000μs","800μs","600μs","540μs","520μs","Fit Curves"],
                            "range": ["M-5.6,0H-0.9M0.9,0H5.6M-1,-0.8L1,-0.8L0,0.95Z","M-5.6,0H-0.9M0.9,0H5.6M-1,0.8L1,0.8L0,-0.95Z","M-5.6,0H-0.9M0.9,0H5.6M0.8,-1L0.8,1L-0.95,0Z","M-5.6,0H-0.9M0.9,0H5.6M-0.85,-0.85H0.85V0.85H-0.85Z","M-5.6,0H-0.9M0.9,0H5.6M0,-1.1L0.85,0L0,1.1L-0.85,0Z","M-5.6,0H-0.9M0.9,0H5.6M-1,-0.8L1,-0.8L0,0.95Z","M-5.6,0H-0.9M0.9,0H5.6M-1,0.8L1,0.8L0,-0.95Z","M-5.6,0H-0.9M0.9,0H5.6M0.8,-1L0.8,1L-0.95,0Z","M-5.6,0H-0.9M0.9,0H5.6M-0.85,-0.85H0.85V0.85H-0.85Z","M-5.6,0H-0.9M0.9,0H5.6M0,-1.1L0.85,0L0,1.1L-0.85,0Z","M-5.6,0H5.6"]},
                  "legend": {"title": "Pulse Width", "orient": "none", "legendX": 413, "legendY": 62, "padding": 0,
                             "titleFont": "Open Sans", "titleFontSize": 20, "titleFontWeight": "normal", "titleColor": "black", "titlePadding": 11,
                             "labelFont": "Open Sans", "labelFontSize": 20, "labelColor": "black", "labelLimit": 200,
                             "symbolSize": 100, "symbolOffset": 16, "labelOffset": 26, "rowPadding": 11.5,
                             "encode": {"symbols": {"update": {"fill": {"scale": "color", "field": "value"}, "stroke": {"scale": "stroke", "field": "value"}, "strokeWidth": {"value": 2}, "opacity": {"value": 1}}}}}}
      }
    },
    {
      "data": {"name": "fit"},
      "mark": {"type": "line", "color": "black", "strokeWidth": 2, "interpolate": "monotone", "clip": true},
      "encoding": {
        "x": {"field": "n", "type": "quantitative", "axis": {"orient": "top", "labels": false, "ticks": false, "title": null, "domain": true}},
        "y": {"field": "g", "type": "quantitative"},
        "detail": {"field": "c", "type": "nominal"}
      }
    }
  ],
  "resolve": {"axis": {"x": "independent"}}
}
